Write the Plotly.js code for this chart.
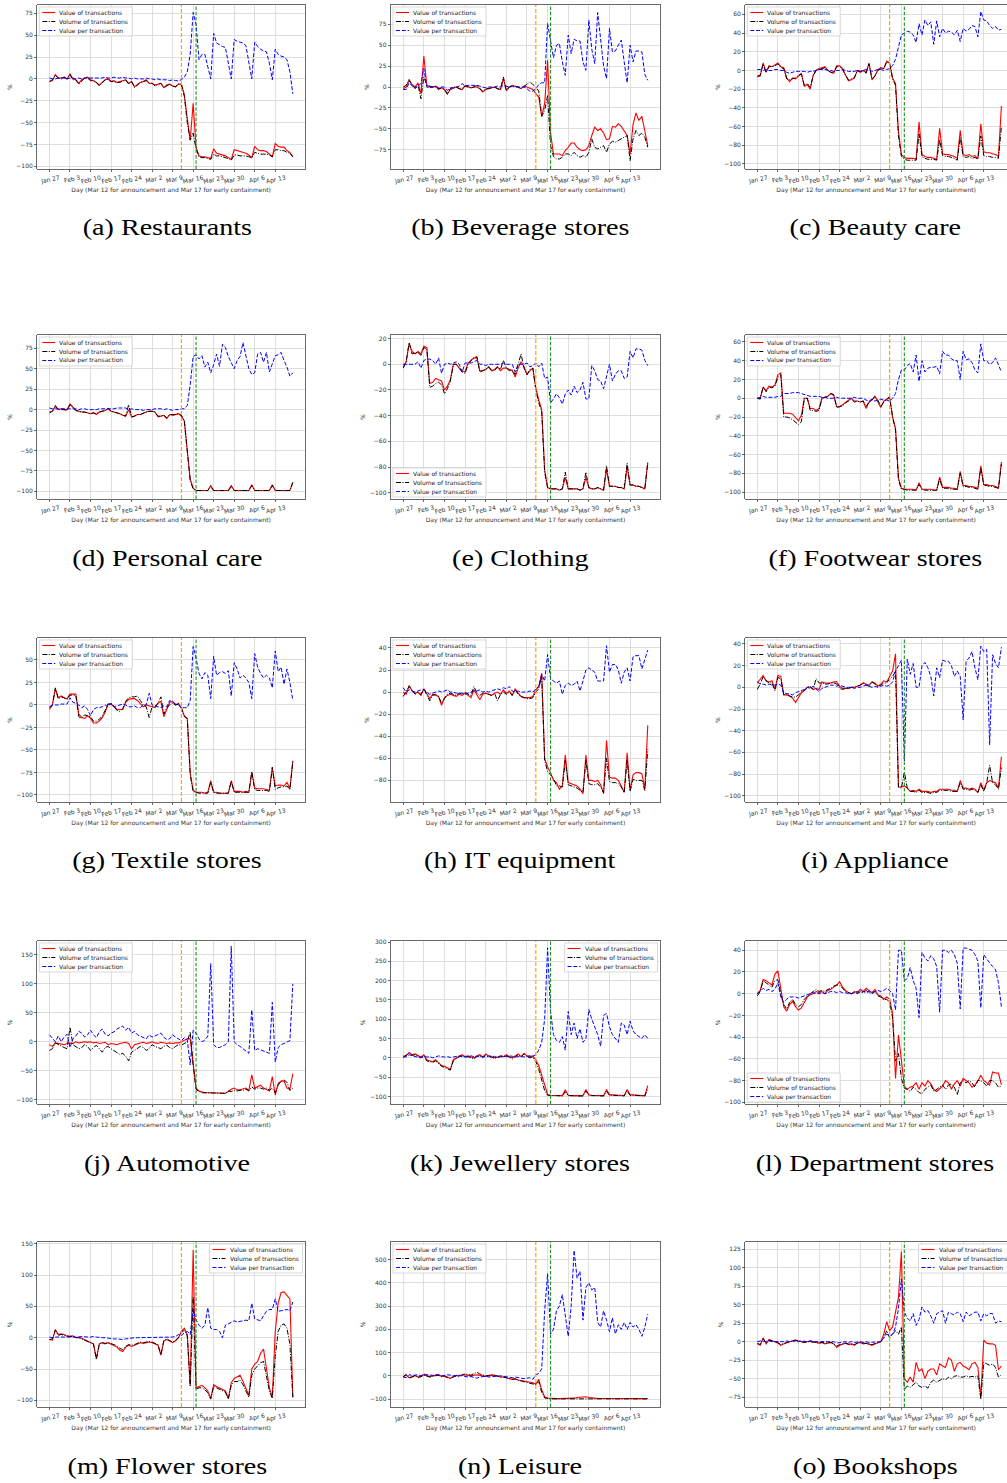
<!DOCTYPE html>
<html><head><meta charset="utf-8">
<script src="https://cdn.plot.ly/plotly-3.0.1.min.js"></script>
<style>html,body{margin:0;padding:0;background:#fff;}#chart{width:1007px;height:1483px;}</style>
</head><body><div id="chart"></div>
<script>
// ---- tick labels (Mondays) ----
const tickLabels = ["Jan 27","Feb 3","Feb 10","Feb 17","Feb 24","Mar 2","Mar 9","Mar 16","Mar 23","Mar 30","Apr 6","Apr 13"];
const tickDays = [0,7,14,21,28,35,42,49,56,63,70,77];
const announcementDay = 45;   // Mar 12
const containmentDay = 50;    // Mar 17
const seriesNames = ["Value of transactions","Volume of transactions","Value per transaction"];
const xTitle = "Day (Mar 12 for announcement and Mar 17 for early containment)";

// ---- data: % change, daily Jan 27 .. Apr 19 (weeks of 7 values) ----
const restaurantsValue = [-3,-2,5,1,1,2,0, 6,0,-1,-5,-1,1,2, -1,-2,-4,-7,-4,-1,0, -3,-2,-4,-3,-2,-1,-5, -3,-9,-6,-4,-3,-1,-5, -5,-7,-6,-5,-10,-7,-6, -8,-9,-6,-6,-18,-45,-70, -28,-78,-88,-89,-89,-90,-91, -80,-85,-86,-87,-88,-90,-92, -81,-82,-83,-84,-85,-87,-90, -77,-81,-82,-82,-83,-86,-89, -74,-77,-78,-78,-82,-84,-89];
const restaurantsVolume = [-3,-1,4,1,0,2,0, 5,-1,-1,-6,-2,1,1, -2,-2,-4,-8,-4,-1,0, -3,-3,-4,-4,-2,-1,-6, -3,-10,-7,-4,-3,-2,-5, -5,-8,-6,-5,-10,-8,-6, -8,-9,-6,-7,-20,-50,-70, -62,-80,-89,-90,-90,-91,-92, -86,-88,-88,-89,-90,-91,-93, -87,-87,-88,-88,-88,-89,-90, -84,-85,-86,-86,-86,-87,-89, -81,-81,-82,-82,-84,-85,-89];
const restaurantsPerTx = [1,0,0,1,1,1,0, 1,1,0,1,0,1,1, 1,1,1,1,1,2,1, 1,2,1,1,2,1,1, 0,1,0,0,0,1,0, 0,-1,0,-1,-1,-1,-2, -1,-2,-2,-1,2,8,28, 76,62,22,28,28,15,0, 52,41,39,37,36,18,0, 45,43,42,41,38,20,0, 42,37,34,32,31,18,-1, 34,28,26,25,22,8,-17];

const beverageValue = [-2,0,8,3,0,5,-8, 37,2,0,0,1,-3,-1, -3,-8,-3,-1,0,-2,-3, 2,0,-1,0,0,-2,-6, -3,-2,-1,0,-2,-3,10, -4,0,2,1,0,-2,1, 0,-2,-3,-8,-12,-35,-20, 32,-55,-80,-80,-80,-82,-76, -72,-67,-67,-72,-75,-76,-75, -70,-58,-48,-52,-50,-55,-63, -62,-47,-48,-44,-47,-52,-58, -80,-45,-31,-40,-35,-55,-70];
const beverageVolume = [0,2,9,2,-1,3,-14, 12,2,1,0,0,-2,-1, -3,-9,-2,0,0,-2,-3, 1,0,-1,0,2,-2,-5, -2,-2,-1,0,-2,-3,12, -5,0,1,1,0,-2,1, 3,6,3,0,-5,-35,-28, -10,-70,-83,-86,-86,-84,-80, -80,-82,-78,-82,-84,-82,-84, -78,-62,-72,-74,-72,-70,-78, -68,-65,-66,-64,-62,-60,-58, -88,-62,-52,-58,-55,-60,-72];
const beveragePerTx = [-3,-3,5,2,-2,1,4, 22,0,-1,0,1,-1,0, 0,-4,-1,-1,0,1,4, 1,2,2,2,2,1,0, -1,0,0,0,1,0,2, 1,0,1,0,0,0,0, -2,-5,-5,-2,3,5,5, 76,55,35,50,52,30,14, 62,40,57,55,55,30,20, 80,45,28,89,60,25,10, 70,42,43,50,56,30,5, 50,30,43,43,42,15,8];

const beautyValue = [-7,-6,8,-2,5,4,6, 8,4,3,-8,-12,-8,-9, -6,-3,-17,-15,-20,-5,0, 2,3,4,0,-2,-3,5, 5,2,-5,-11,-10,-8,0, -2,0,-2,8,-10,-6,1, 3,2,10,8,-8,-14,-65, -90,-93,-94,-94,-94,-95,-55, -90,-92,-93,-93,-94,-95,-62, -89,-90,-90,-91,-92,-94,-64, -90,-91,-90,-92,-91,-94,-57, -87,-88,-88,-89,-90,-92,-38];
const beautyVolume = [-6,-5,7,-2,4,4,5, 7,3,2,-9,-10,-9,-8, -5,-4,-16,-14,-18,-6,0, 1,2,3,0,-2,-2,4, 4,1,-5,-10,-9,-8,0, -1,0,-3,7,-9,-6,0, 2,2,9,7,-9,-16,-70, -92,-95,-96,-96,-96,-96,-68, -92,-94,-95,-95,-95,-96,-74, -91,-92,-92,-93,-94,-96,-72, -92,-93,-92,-94,-93,-95,-70, -91,-92,-92,-93,-93,-94,-60];
const beautyPerTx = [1,1,0,1,0,0,1, 1,0,0,-2,-3,-2,-1, -1,-1,-1,-2,-1,-1,0, 1,1,1,0,0,-1,0, 0,1,0,-1,-1,-1,0, -1,0,1,1,-1,0,1, 1,0,1,2,5,12,25, 38,40,42,41,38,30,50, 38,54,48,52,28,53,36, 45,40,42,41,38,43,31, 45,42,44,48,47,36,63, 54,53,48,45,47,43,44];

const personalValue = [-3,-2,4,0,1,0,0, 7,3,-1,-2,-3,-3,-4, -5,-4,-6,-3,-2,-1,1, -2,-3,-4,-5,-7,-8,0, -9,-8,-6,-6,-4,-3,-2, -2,-3,-9,-8,-7,-11,-6, -7,-6,-5,-8,-14,-50,-85, -96,-99,-99,-99,-99,-99,-93, -99,-99,-99,-99,-99,-99,-93, -99,-99,-99,-99,-99,-99,-92, -99,-99,-99,-99,-99,-99,-92, -99,-99,-99,-99,-99,-99,-89];
const personalVolume = [-4,-2,5,0,0,0,-1, 6,3,-1,-2,-3,-3,-4, -5,-4,-5,-3,-2,-1,2, -2,-3,-4,-5,-7,-8,6, -9,-8,-6,-6,-4,-3,-2, -2,-3,-8,-8,-7,-10,-6, -6,-6,-5,-7,-14,-55,-87, -97,-99,-99,-99,-99,-99,-94, -99,-99,-99,-99,-99,-99,-94, -99,-99,-99,-99,-99,-99,-93, -99,-99,-99,-99,-99,-99,-93, -99,-99,-99,-99,-99,-99,-89];
const personalPerTx = [2,1,1,1,1,1,1, 1,1,1,0,1,1,0, 0,0,0,1,1,1,1, 1,1,2,2,2,2,0, 1,0,0,0,-1,0,0, 0,1,1,1,0,1,0, -1,0,0,1,1,5,30, 65,67,62,66,52,58,45, 55,68,53,80,76,65,58, 50,60,65,82,65,50,43, 45,68,70,58,70,46,55, 66,67,70,60,52,41,45];

const clothingValue = [-2,2,16,10,8,10,8, 14,13,-15,-14,-11,-12,-13, -20,-17,-12,0,0,-3,-5, -6,1,3,5,5,-5,-5, -4,-2,-5,-4,-2,-5,-3, -3,-4,-5,-10,-3,2,-2, -8,-5,-3,-18,-28,-35,-82, -96,-97,-97,-97,-98,-97,-88, -97,-97,-97,-97,-98,-97,-88, -96,-97,-97,-96,-97,-98,-82, -95,-95,-95,-96,-96,-97,-80, -94,-94,-95,-95,-96,-97,-77];
const clothingVolume = [-3,2,17,8,9,9,7, 13,12,-18,-17,-15,-14,-16, -23,-19,-13,0,0,-3,-6, -7,0,3,5,6,-6,-5, -4,-2,-5,-5,-2,-4,3, -3,-5,-4,-8,0,8,-3, -8,-4,-3,-20,-30,-37,-84, -96,-97,-97,-97,-98,-97,-84, -97,-97,-97,-97,-98,-97,-84, -96,-97,-97,-96,-97,-98,-79, -95,-95,-95,-96,-96,-97,-77, -94,-94,-95,-95,-96,-97,-76];
const clothingPerTx = [0,0,0,0,0,2,-3, 3,4,4,3,0,5,-7, 0,1,0,1,2,0,-6, 1,1,1,2,3,0,0, -1,0,0,0,0,0,1, 0,0,0,-6,0,0,0, 1,-2,-1,1,-2,1,-11, -10,-30,-27,-23,-26,-31,-23, -20,-24,-17,-22,-20,-14,-27, -27,-1,-5,-12,-13,-19,-10, 0,-13,-8,-5,-5,-11,-10, 10,5,12,12,11,3,-1];

const footwearValue = [0,0,12,8,13,12,14, 25,27,-16,-16,-16,-17,-20, -24,-18,0,0,-11,-11,-13, -11,0,1,2,5,3,-9, -9,-7,-4,-2,0,-3,-3, -4,-3,-11,-4,-2,2,-4, -10,-3,-1,0,-20,-32,-85, -96,-97,-97,-97,-97,-98,-90, -97,-97,-97,-97,-98,-98,-84, -95,-95,-95,-96,-96,-97,-78, -93,-93,-94,-94,-95,-96,-72, -92,-92,-93,-93,-94,-96,-68];
const footwearVolume = [0,-1,12,7,12,11,13, 22,25,-20,-20,-21,-23,-26, -28,-25,0,0,-13,-13,-14, -13,0,1,2,5,4,-10, -9,-8,-5,-3,-1,-4,-3, -4,-3,-9,-4,-2,2,-2, -9,-4,-1,2,-20,-34,-87, -97,-97,-98,-98,-98,-98,-92, -97,-98,-98,-98,-98,-98,-86, -96,-96,-96,-97,-97,-97,-80, -94,-94,-95,-95,-96,-97,-74, -93,-93,-94,-94,-95,-96,-70];
const footwearPerTx = [0,1,2,1,1,1,1, 2,2,5,5,5,6,6, 6,5,4,3,2,2,2, 2,1,1,0,0,0,1, 0,0,0,0,0,1,0, 0,0,-2,-3,-1,-3,-2, -1,-2,-2,-3,0,5,20, 30,30,35,37,28,46,18, 40,28,32,33,33,34,26, 50,46,46,42,40,40,20, 50,41,42,38,30,27,58, 40,40,36,38,43,36,28];

const textileValue = [-5,0,18,8,10,8,7, 12,12,12,-10,-14,-15,-12, -15,-20,-20,-18,-14,-8,1, 1,-2,-5,-5,-5,3,6, 7,7,5,2,-2,0,-1, -2,-3,2,4,-13,-5,3, 4,0,2,-4,-12,-15,-75, -95,-97,-97,-97,-98,-97,-84, -97,-97,-98,-98,-98,-98,-84, -96,-96,-96,-97,-96,-97,-75, -92,-93,-93,-93,-94,-95,-70, -90,-89,-89,-90,-86,-93,-62];
const textileVolume = [-3,0,19,7,9,8,6, 11,11,10,-13,-15,-11,-12, -13,-18,-18,-16,-12,-6,1, 1,-1,-6,-7,-4,4,8, 9,9,10,5,0,-2,-14, -2,-2,2,9,-10,-3,0, 2,0,1,-3,-13,-15,-78, -96,-97,-98,-98,-98,-98,-86, -97,-98,-98,-98,-98,-98,-85, -97,-97,-97,-97,-97,-97,-74, -94,-95,-95,-95,-95,-96,-69, -94,-92,-91,-91,-90,-94,-63];
const textilePerTx = [-2,0,0,0,1,1,1, 8,3,2,0,-3,-1,-5, -12,-5,-3,-3,-2,0,-2, 2,-2,-1,0,1,0,-2, -2,-1,-3,-3,0,0,13, 0,-1,-2,-3,-1,-2,5, 3,1,0,-3,-3,-3,5, 65,52,35,29,36,33,7, 54,33,36,37,35,38,10, 47,40,30,33,30,25,7, 57,42,35,30,33,30,19, 60,37,42,23,40,25,5];

const itValue = [0,-2,6,1,-1,0,-3, 3,-1,-6,-2,-3,-4,-12, -5,-3,-2,-3,-4,-2,-3, -1,-3,-5,2,-2,-7,-2, -1,-2,-3,-1,0,-2,2, -1,1,-3,3,-1,-4,-5, -5,-5,-4,2,5,17,-60, -68,-73,-80,-82,-88,-85,-57, -82,-83,-84,-85,-88,-92,-57, -80,-80,-81,-80,-84,-92,-44, -77,-78,-78,-80,-85,-91,-55, -89,-75,-73,-73,-74,-88,-30];
const itVolume = [-4,0,5,2,-2,0,-2, 3,-2,-8,-3,-2,-4,-10, -6,-2,-1,-2,-3,-1,-2, 0,-2,-3,5,-1,-3,-1, -1,-2,-3,-1,-8,-2,0, -2,0,-3,2,-2,-4,-5, -6,-6,-5,0,3,15,-62, -72,-75,-78,-85,-85,-86,-62, -84,-85,-86,-87,-89,-91,-62, -83,-84,-84,-83,-86,-91,-60, -81,-82,-82,-83,-86,-91,-62, -90,-79,-80,-80,-80,-89,-52];
const itPerTx = [4,0,2,1,0,1,2, 2,0,-2,-1,0,1,0, 1,2,0,0,-1,-1,-1, -2,-1,0,1,1,2,0, 1,0,1,2,3,2,4, 3,5,1,0,1,0,0, 0,1,0,3,5,16,10, 34,12,10,8,10,-2,6, 8,6,7,10,1,10,20, 22,20,18,10,10,10,42, 18,25,25,20,8,18,22, 10,32,33,33,21,30,38];

const applianceValue = [4,8,11,6,5,6,-2, 11,10,-7,-7,-8,-10,-14, -10,-5,-3,0,0,-2,-1, -2,5,4,4,4,5,5, 1,-1,-1,-1,0,0,1, 2,4,3,2,5,4,1, 3,6,5,10,15,31,-92, -92,-91,-93,-96,-95,-96,-94, -96,-96,-96,-97,-96,-96,-94, -94,-94,-94,-95,-95,-96,-86, -93,-93,-94,-93,-94,-97,-88, -95,-88,-86,-87,-88,-93,-64];
const applianceVolume = [-2,3,10,6,4,4,-3, 9,8,-7,-6,-8,-9,-9, -7,-4,-3,0,1,-2,8, 4,4,3,3,4,4,3, -1,-2,-1,-1,0,0,1, 2,4,2,1,5,3,1, 2,4,4,8,10,15,-92, -93,-78,-93,-96,-96,-97,-95, -97,-97,-97,-98,-97,-97,-95, -95,-95,-95,-96,-96,-96,-88, -94,-94,-95,-94,-95,-97,-90, -96,-88,-72,-88,-90,-94,-74];
const appliancePerTx = [5,3,3,2,3,2,2, 3,2,-5,-6,-6,-7,-5, -4,-3,-2,0,-1,1,-2, -4,-1,0,1,2,2,1, 2,1,0,0,0,-1,0, 0,1,2,1,0,1,0, 1,2,1,2,5,15,20, 25,-68,26,12,22,0,0, 20,23,18,10,-8,18,9, 25,24,24,20,10,15,10, -30,24,27,33,18,7,38, 33,35,-53,30,22,18,37];

const automotiveValue = [-5,-8,-2,-3,-3,-5,-3, -2,-3,0,-2,-1,0,-1, 0,-2,-1,-3,-2,-1,-5, -3,-4,-5,-3,-2,-1,-3, -12,-5,-3,-2,-1,-3,-2, 0,-2,-3,-1,-2,-3,-2, -3,-2,-2,0,2,5,5, -35,-80,-85,-87,-88,-88,-88, -88,-88,-89,-88,-89,-86,-82, -80,-83,-83,-82,-80,-84,-57, -80,-78,-75,-80,-82,-85,-60, -92,-72,-68,-68,-80,-82,-55];
const automotiveVolume = [-15,-12,-2,-5,-8,-10,-12, 25,-5,-8,-12,-10,-5,-8, -15,-10,-6,-12,-18,-10,-8, -12,-15,-18,-22,-20,-25,-33, -18,-15,-12,-8,-10,-15,-12, -5,-8,-10,-12,-8,-6,-10, -12,-8,-5,-6,-3,0,17, -40,-82,-86,-88,-88,-88,-88, -88,-88,-89,-88,-89,-85,-86, -84,-85,-84,-84,-82,-85,-78, -82,-80,-80,-82,-80,-84,-80, -88,-75,-68,-66,-70,-84,-80];
const automotivePerTx = [12,5,0,10,0,8,13, -10,5,10,18,15,8,12, 20,12,7,17,22,13,10, 15,17,22,25,27,20,25, 15,18,12,10,8,5,12, 8,10,12,15,8,4,5, 12,8,5,2,7,3,-40, 20,15,5,0,3,10,135, -5,-10,-10,-8,-5,0,165, 0,-5,-8,-12,-15,-20,55, -15,-12,-14,-15,-18,-20,68, -35,-10,-5,-3,0,2,100];

const jewelleryValue = [0,5,14,8,10,5,2, 8,-5,-8,-10,-5,-12,-20, -22,-25,-30,-5,0,5,8, 3,5,2,0,5,8,2, 10,5,3,0,2,5,3, 8,3,0,5,10,3,12, 5,3,5,-5,-20,-45,-75, -95,-97,-97,-98,-98,-98,-83, -97,-98,-98,-98,-98,-98,-82, -96,-97,-97,-97,-98,-98,-82, -96,-96,-97,-97,-97,-98,-82, -96,-96,-97,-97,-98,-98,-72];
const jewelleryVolume = [2,8,12,6,8,4,0, 5,-8,-10,-12,-8,-15,-22, -25,-28,-32,-8,-2,3,5, 2,3,0,-3,3,5,0, 8,3,2,-2,0,3,2, 5,2,-3,3,8,2,10, 3,0,2,-10,-30,-55,-85, -97,-98,-98,-98,-98,-99,-88, -98,-98,-99,-99,-99,-99,-86, -97,-98,-98,-98,-99,-99,-87, -97,-97,-98,-98,-98,-99,-86, -97,-97,-98,-98,-98,-99,-80];
const jewelleryPerTx = [5,2,8,5,3,2,0, 3,2,3,0,2,5,3, 2,3,1,2,3,5,3, 2,3,5,3,4,5,3, 2,4,5,3,2,4,5, 3,5,4,2,3,4,2, 3,5,4,8,20,40,100, 285,120,60,45,40,55,20, 120,60,90,50,75,40,50, 125,100,80,60,30,110,115, 80,60,50,40,90,85,60, 95,70,60,55,50,60,50];

const departmentValue = [0,3,13,12,10,8,18, 21,5,-12,-16,-10,-7,-12, -15,-13,-8,-3,-1,0,2, 1,2,0,3,4,6,8, 11,6,3,1,0,2,1, 4,2,5,3,1,4,-1, -2,-5,-3,-5,-18,-78,-38, -60,-85,-88,-86,-85,-82,-88, -82,-85,-80,-83,-88,-90,-87, -85,-80,-82,-88,-83,-80,-85, -78,-80,-82,-86,-84,-80,-75, -80,-82,-84,-72,-73,-73,-84];
const departmentVolume = [-2,2,12,10,8,6,12, 13,0,-10,-14,-8,-5,-10, -12,-10,-5,-2,0,2,4, 2,3,2,4,5,7,8, 8,5,2,1,0,1,0, 2,1,3,1,0,2,-2, -3,-6,-5,-8,-22,-62,-55, -78,-87,-88,-90,-86,-88,-91, -92,-88,-86,-84,-90,-88,-86, -84,-88,-84,-83,-86,-93,-82, -80,-82,-80,-82,-86,-80,-80, -82,-85,-80,-80,-82,-86,-85];
const departmentPerTx = [0,2,5,3,4,2,4, 10,-3,-8,-5,-3,-3,-3, -4,-3,-2,-1,0,1,0, 0,1,0,1,2,2,1, 2,1,1,0,0,1,2, 1,2,1,2,1,2,3, 2,3,5,3,0,-15,40, 40,12,14,24,12,5,-22, 38,33,30,35,32,25,-17, 40,40,38,40,36,28,-14, 42,42,41,40,36,30,-13, 36,32,28,25,22,10,-12];

const flowerValue = [-3,-4,13,5,6,5,2, 2,3,0,1,-1,-3,-5, -8,-10,-33,-10,-8,-10,-8, -10,-12,-15,-20,-22,-15,-12, -14,-12,-10,-8,-9,-8,-7, -8,-10,-12,-28,-5,-3,-6, -8,-5,0,10,15,5,-77, 140,-80,-78,-76,-80,-85,-97, -75,-78,-80,-83,-85,-97,-72, -65,-62,-60,-70,-80,-92,-50, -42,-38,-25,-18,-50,-80,-95, 10,55,72,73,68,62,-95];
const flowerVolume = [-3,-2,12,4,5,4,2, 2,2,0,0,-2,-3,-6, -8,-10,-35,-10,-8,-9,-8, -9,-11,-13,-17,-19,-14,-11, -12,-11,-9,-7,-8,-7,-6, -7,-9,-11,-27,-5,-2,-5, -7,-4,0,8,12,3,-77, 65,-82,-80,-80,-83,-88,-98, -78,-80,-82,-85,-87,-98,-76, -70,-70,-68,-75,-85,-95,-60, -50,-45,-40,-38,-60,-85,-97, -30,10,20,22,15,-10,-95];
const flowerPerTx = [1,0,1,1,1,0,0, 1,1,1,1,2,1,1, 1,2,1,0,0,0,-1, -1,-2,-2,-3,-3,-2,-1, -1,0,0,0,0,0,1, 0,1,1,0,1,1,1, 1,2,5,3,8,10,5, 45,28,20,15,20,48,15, 13,13,10,0,20,22,25, 27,25,26,27,28,27,55, 30,28,27,35,42,45,45, 62,42,43,44,45,43,57];

const leisureValue = [-5,3,-8,-3,2,-5,-2, 5,2,-3,0,3,5,-2, 0,-5,-10,-3,2,0,3, 5,2,0,3,5,2,0, -2,0,3,2,-3,-5,-5, -8,-10,-15,-12,-18,-20,-22, -25,-28,-30,-35,-15,-60,-90, -95,-97,-98,-98,-98,-98,-98, -97,-97,-96,-93,-92,-94,-90, -93,-96,-96,-97,-97,-97,-97, -96,-97,-97,-97,-98,-98,-98, -97,-97,-98,-98,-98,-98,-98];
const leisureVolume = [-3,6,-10,-5,0,-7,-4, 3,0,-5,-2,1,3,-4, -2,-8,-12,-5,0,-2,5, 8,5,3,10,15,8,3, 0,2,5,3,-2,-5,-5, -8,-12,-15,-14,-20,-22,-25, -28,-30,-32,-38,-25,-70,-95, -98,-99,-99,-99,-99,-99,-99, -99,-99,-99,-98,-98,-99,-98, -98,-99,-99,-99,-99,-99,-99, -99,-99,-99,-99,-99,-99,-99, -99,-99,-99,-99,-99,-99,-99];
const leisurePerTx = [-5,-8,5,2,3,5,0, 8,5,3,2,5,3,0, 2,5,3,0,2,3,0, -2,-5,-3,-8,-10,-5,-3, -2,-5,-3,-2,0,0,-2, -3,-5,-8,-5,-8,-10,-12, -10,-8,-15,5,10,30,280, 440,180,200,280,300,350,250, 170,300,540,420,450,240,380, 400,370,380,230,210,280,240, 190,250,180,220,200,230,200, 230,210,220,200,170,210,265];

const bookshopValue = [-3,-5,5,-3,3,2,0, -2,-5,-3,-1,0,1,2, 1,0,-1,0,1,0,-1, -2,-1,-3,-2,-1,-3,-8, -5,-3,-2,-4,-3,-5,-2, -1,-3,-2,-4,-5,-3,-1, 0,10,27,15,20,40,60, 122,-50,-55,-48,-55,-28,-40, -37,-50,-40,-37,-37,-45,-30, -33,-35,-22,-25,-40,-30,-28, -33,-35,-38,-30,-28,-35,-75, 2,-2,-3,-3,-5,-38,-33];
const bookshopVolume = [-2,-4,4,-2,2,1,0, -1,-4,-2,-1,0,1,2, 1,0,-1,0,0,0,-1, -2,-1,-2,-2,-1,-3,-6, -4,-3,-2,-3,-3,-4,-2, -1,-2,-2,-3,-4,-3,-1, 0,5,15,5,10,15,10, 20,-65,-60,-62,-58,-55,-60, -62,-60,-63,-55,-52,-55,-53, -50,-52,-48,-50,-47,-46,-48, -48,-46,-48,-47,-48,-46,-78, -28,-30,-32,-30,-35,-48,-45];
const bookshopPerTx = [0,1,0,1,1,0,0, 0,-1,0,1,0,1,0, 0,1,0,0,1,0,0, 0,0,-1,0,0,0,-2, -1,0,0,-1,0,-1,0, 0,-1,0,-1,-1,0,0, 0,5,10,8,10,20,45, 85,40,32,28,38,22,30, 47,40,42,35,25,38,40, 42,25,40,38,36,40,38, 27,40,35,38,40,40,28, 38,35,38,38,25,28,27];

// ---- panel setup ----
const panels = [
  {cap:"(a) Restaurants", v:restaurantsValue, n:restaurantsVolume, p:restaurantsPerTx, yr:[-103,84.5], dt:25, leg:"tl"},
  {cap:"(b) Beverage stores", v:beverageValue, n:beverageVolume, p:beveragePerTx, yr:[-98,98], dt:25, leg:"tl"},
  {cap:"(c) Beauty care", v:beautyValue, n:beautyVolume, p:beautyPerTx, yr:[-105.4,70], dt:20, leg:"tl"},
  {cap:"(d) Personal care", v:personalValue, n:personalVolume, p:personalPerTx, yr:[-109.4,91.3], dt:25, leg:"tl"},
  {cap:"(e) Clothing", v:clothingValue, n:clothingVolume, p:clothingPerTx, yr:[-104.9,22.8], dt:20, leg:"bl"},
  {cap:"(f) Footwear stores", v:footwearValue, n:footwearVolume, p:footwearPerTx, yr:[-107.4,67.4], dt:20, leg:"tl"},
  {cap:"(g) Textile stores", v:textileValue, n:textileVolume, p:textilePerTx, yr:[-107.8,74.4], dt:25, leg:"tl"},
  {cap:"(h) IT equipment", v:itValue, n:itVolume, p:itPerTx, yr:[-99.6,49], dt:20, leg:"tl"},
  {cap:"(i) Appliance", v:applianceValue, n:applianceVolume, p:appliancePerTx, yr:[-105.8,45.5], dt:20, leg:"tl"},
  {cap:"(j) Automotive", v:automotiveValue, n:automotiveVolume, p:automotivePerTx, yr:[-107.5,174], dt:50, leg:"tl"},
  {cap:"(k) Jewellery stores", v:jewelleryValue, n:jewelleryVolume, p:jewelleryPerTx, yr:[-119.7,302.6], dt:50, leg:"tr"},
  {cap:"(l) Department stores", v:departmentValue, n:departmentVolume, p:departmentPerTx, yr:[-101.5,48.5], dt:20, leg:"bl"},
  {cap:"(m) Flower stores", v:flowerValue, n:flowerVolume, p:flowerPerTx, yr:[-110.6,152.7], dt:50, leg:"tr"},
  {cap:"(n) Leisure", v:leisureValue, n:leisureVolume, p:leisurePerTx, yr:[-134,576], dt:100, leg:"tl"},
  {cap:"(o) Bookshops", v:bookshopValue, n:bookshopVolume, p:bookshopPerTx, yr:[-88.5,135], dt:25, leg:"tr"}
];

const W = 1007, H = 1483;
const colL = [37.3, 391, 745.3], colR = [305, 660, 1007], colVirtR = [305, 660, 1014];
const rowT = [5, 335, 638, 941, 1242], rowB = [169, 499, 802, 1104, 1407];
const capX = [167, 520, 875], capY = [227, 558, 860, 1163, 1466];
const xRanges = [[-4.15, 87.15], [-4.15, 87.15], [-4.07, 84.9]];

const dayIndex = panels[0].v.map((_, i) => i);
const px = x => x / W, py = y => 1 - y / H;

const tickFont = {family: "DejaVu Sans", size: 6, color: "#333"};
const axBase = {
  showgrid: true, gridcolor: "#d6d6d6", gridwidth: 0.8, zeroline: false,
  showline: true, linecolor: "#444", linewidth: 0.8, mirror: true,
  ticks: "outside", ticklen: 2.5, tickwidth: 0.8, tickcolor: "#444",
  tickfont: tickFont, fixedrange: true
};
const lineStyles = [
  {color: "#ff0000", width: 1.1},
  {color: "#000000", width: 1.0, dash: "5px,1.5px,1px,1.5px"},
  {color: "#0000ff", width: 1.0, dash: "4px,1.8px"}
];

const data = [], shapes = [], annotations = [];
const layout = {
  width: W, height: H, margin: {l: 0, r: 0, t: 0, b: 0},
  paper_bgcolor: "#fff", plot_bgcolor: "#fff", showlegend: false
};

panels.forEach((pn, i) => {
  const r = Math.floor(i / 3), c = i % 3;
  const s = i === 0 ? "" : String(i + 1);
  const xr = "x" + s, yr = "y" + s;
  layout["xaxis" + s] = Object.assign({}, axBase, {
    domain: [px(colL[c]), px(colR[c])], range: xRanges[c], anchor: yr,
    tickmode: "array", tickvals: tickDays, ticktext: tickLabels, tickangle: -12, ticklabelshift: 10,
    title: {text: xTitle, font: {family: "DejaVu Sans", size: 6, color: "#333"}, standoff: 1}
  });
  layout["yaxis" + s] = Object.assign({}, axBase, {
    domain: [py(rowB[r]), py(rowT[r])], range: pn.yr, anchor: xr,
    tick0: 0, dtick: pn.dt,
    title: {text: "%", font: {family: "DejaVu Sans", size: 6, color: "#333"}, standoff: 3}
  });
  [pn.v, pn.n, pn.p].forEach((vals, k) => {
    data.push({type: "scatter", mode: "lines", x: dayIndex, y: vals, xaxis: xr, yaxis: yr,
      name: seriesNames[k], line: lineStyles[k], hoverinfo: "skip"});
  });
  // event lines
  shapes.push({type: "line", xref: xr, yref: yr + " domain", x0: announcementDay, x1: announcementDay, y0: 0, y1: 1,
    line: {color: "#ffa500", width: 1.2, dash: "4px,2px"}});
  shapes.push({type: "line", xref: xr, yref: yr + " domain", x0: containmentDay, x1: containmentDay, y0: 0, y1: 1,
    line: {color: "#1f8f1f", width: 1.1, dash: "3.5px,1.8px"}});
  // legend box
  const bw = 93, bh = 29;
  let bx, by;
  if (pn.leg === "tl") { bx = colL[c] + 2; by = rowT[r] + 2; }
  else if (pn.leg === "bl") { bx = colL[c] + 2; by = rowB[r] - 2 - bh; }
  else { bx = colVirtR[c] - 2.5 - bw; by = rowT[r] + 2; }
  shapes.push({type: "rect", xref: "paper", yref: "paper", x0: px(bx), x1: px(bx + bw), y0: py(by), y1: py(by + bh),
    line: {color: "#cfcfcf", width: 0.8}, fillcolor: "rgba(255,255,255,0.85)"});
  for (let k = 0; k < 3; k++) {
    const ly = by + 5.5 + k * 9;
    shapes.push({type: "line", xref: "paper", yref: "paper", x0: px(bx + 3), x1: px(bx + 16), y0: py(ly), y1: py(ly),
      line: lineStyles[k]});
    annotations.push({xref: "paper", yref: "paper", x: px(bx + 19), y: py(ly), text: seriesNames[k], showarrow: false,
      xanchor: "left", yanchor: "middle", borderpad: 0,
      font: {family: "DejaVu Sans", size: 6, color: "#222"}});
  }
  // caption
  annotations.push({xref: "paper", yref: "paper", x: px(capX[c]), y: py(capY[r]), text: pn.cap, showarrow: false,
    xanchor: "center", yanchor: "middle", font: {family: "Liberation Serif", size: 24, color: "#000"}});
});
layout.shapes = shapes;
layout.annotations = annotations;

Plotly.newPlot("chart", data, layout, {staticPlot: true, displayModeBar: false}).then(() => {
  document.querySelectorAll("#chart .annotation-text").forEach(t => {
    if (t.textContent.charAt(0) === "(") {
      const w = t.getComputedTextLength();
      t.setAttribute("textLength", (w * 1.17).toFixed(1));
      t.setAttribute("lengthAdjust", "spacingAndGlyphs");
    }
  });
});
</script>
</body></html>
